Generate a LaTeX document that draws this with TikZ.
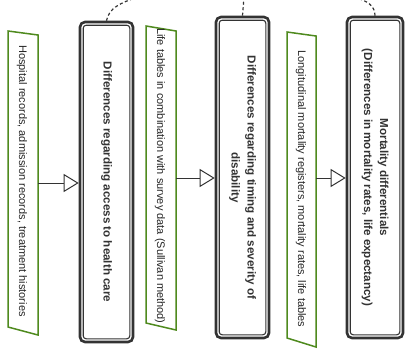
\documentclass[tikz,border=0pt]{standalone}
\usepackage{fontspec}
\setmainfont{Liberation Sans}
\usetikzlibrary{arrows.meta}
\definecolor{grn}{HTML}{4F8A1E}
\definecolor{dk}{HTML}{333333}
\begin{document}
\begin{tikzpicture}[x=1pt,y=-1pt,
 srcbox/.style={draw=grn, line width=1.5pt, fill=white},
 mainbox/.style={draw=dk, line width=2.6pt, rounded corners=5pt, fill=white},
 innerbox/.style={draw=dk, line width=1.1pt, rounded corners=3pt},
 srctext/.style={rotate=-90, font=\fontsize{11}{12}\selectfont, inner sep=0pt, text=black!85},
 maintext/.style={rotate=-90, font=\bfseries\fontsize{11.6}{16}\selectfont, align=center, inner sep=0pt, text=dk},
 flow/.style={draw=dk, line width=1pt, -{Triangle[open, length=15pt, width=18pt, line width=1pt]}},
 link/.style={draw=dk, line width=1.2pt, dash pattern=on 3pt off 2.5pt}]
\useasboundingbox (0,0) rectangle (406,349);
\clip (0,0) rectangle (406,349);

% source shapes
\draw[srcbox] (8,31) -- (38,35) -- (38,335) -- (8,327) -- cycle;
\node[srctext] (g1) at (22,181) {Hospital records, admission records, treatment histories};
\draw[srcbox] (146,26) -- (176,31) -- (176,330) -- (146,323) -- cycle;
\node[srctext] (g2) at (160,176) {Life tables in combination with survey data (Sullivan method)};
\draw[srcbox] (287,32) -- (316,36) -- (316,347) -- (287,338) -- cycle;
\node[srctext] (g3) at (301,189) {Longitudinal mortality registers, mortality rates, life tables};

% main boxes
\node[mainbox, minimum width=53pt, minimum height=320pt] (b1) at (106.5,182) {};
\draw[innerbox] ([shift={(4.5,4.5)}]b1.north west) rectangle ([shift={(-4.5,-4.5)}]b1.south east);
\node[maintext] (t1) at (b1.center) {Differences regarding access to health care};

\node[mainbox, minimum width=53pt, minimum height=321pt] (b2) at (242.5,177.5) {};
\draw[innerbox] ([shift={(4.5,4.5)}]b2.north west) rectangle ([shift={(-4.5,-4.5)}]b2.south east);
\node[maintext] (t2) at (b2.center) {Differences regarding timing and severity of\\disability};

\node[mainbox, minimum width=56pt, minimum height=321pt] (b3) at (375,177.5) {};
\draw[innerbox] ([shift={(4.5,4.5)}]b3.north west) rectangle ([shift={(-4.5,-4.5)}]b3.south east);
\node[maintext] (t3) at (b3.center) {Mortality differentials\\(Differences in mortality rates, life expectancy)};

% arrows
\coordinate (s1) at (38,183);
\coordinate (s2) at (176,178);
\coordinate (s3) at (316,178);
\draw[flow] (s1) -- (s1 -| b1.west);
\draw[flow] (s2) -- (s2 -| b2.west);
\draw[flow] (s3) -- (s3 -| b3.west);

% dashed links leaving the picture
\coordinate (c1) at (138,-3);
\coordinate (c2) at (244,-3);
\coordinate (c3) at (354,-3);
\draw[link] (b1.north) .. controls (109,8) and (120,3) .. (c1);
\draw[link] (b2.north) -- (c2);
\draw[link] (b3.north) .. controls (375,6) and (368,1) .. (c3);
\end{tikzpicture}
\end{document}
